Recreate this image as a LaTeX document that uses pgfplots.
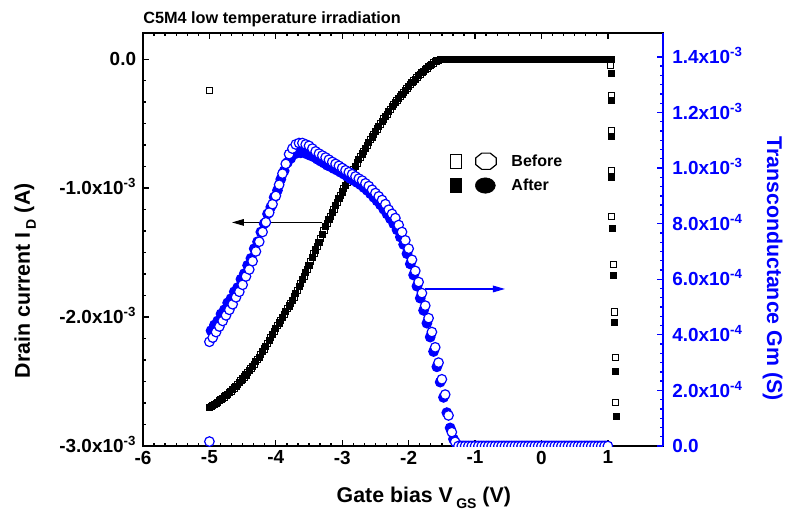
\documentclass[border=0pt]{standalone}
\usepackage{fontspec}
\setmainfont{Liberation Sans}
\usepackage{pgfplots}
\pgfplotsset{compat=1.18}
\usepackage{pgfplotstable}
\usetikzlibrary{arrows.meta}
\definecolor{gmblue}{RGB}{0,0,255}

% Drain current (units of 1e-3 A)
\pgfplotstableread[row sep=\\]{
x y\\
-5.00 -0.245\\
-4.975 -2.693\\ -4.925 -2.677\\ -4.875 -2.659\\ -4.825 -2.640\\ -4.775 -2.620\\ -4.725 -2.599\\ -4.675 -2.576\\ -4.625 -2.550\\ -4.575 -2.522\\ -4.525 -2.494\\
-4.475 -2.465\\ -4.425 -2.433\\ -4.375 -2.399\\ -4.325 -2.365\\ -4.275 -2.329\\ -4.225 -2.289\\ -4.175 -2.247\\ -4.125 -2.203\\ -4.075 -2.159\\ -4.025 -2.113\\
-3.975 -2.068\\ -3.925 -2.024\\ -3.875 -1.980\\ -3.825 -1.936\\ -3.775 -1.892\\ -3.725 -1.844\\ -3.675 -1.791\\ -3.625 -1.737\\ -3.575 -1.683\\ -3.525 -1.628\\
-3.475 -1.570\\ -3.425 -1.510\\ -3.375 -1.450\\ -3.325 -1.390\\ -3.275 -1.330\\ -3.225 -1.273\\ -3.175 -1.218\\ -3.125 -1.164\\ -3.075 -1.110\\ -3.025 -1.057\\
-2.975 -1.005\\ -2.925 -0.955\\ -2.875 -0.905\\ -2.825 -0.855\\ -2.775 -0.805\\ -2.725 -0.758\\ -2.675 -0.713\\ -2.625 -0.668\\ -2.575 -0.625\\ -2.525 -0.582\\
-2.475 -0.541\\ -2.425 -0.502\\ -2.375 -0.464\\ -2.325 -0.426\\ -2.275 -0.389\\ -2.225 -0.354\\ -2.175 -0.321\\ -2.125 -0.288\\ -2.075 -0.257\\ -2.025 -0.226\\
-1.975 -0.196\\ -1.925 -0.169\\ -1.875 -0.142\\ -1.825 -0.116\\ -1.775 -0.092\\ -1.725 -0.069\\ -1.675 -0.048\\ -1.625 -0.029\\ -1.575 -0.014\\ -1.525 -0.004\\
-1.475 0\\ -1.425 0\\ -1.375 0\\ -1.325 0\\ -1.275 0\\ -1.225 0\\ -1.175 0\\ -1.125 0\\ -1.075 0\\ -1.025 0\\
-0.975 0\\ -0.925 0\\ -0.875 0\\ -0.825 0\\ -0.775 0\\ -0.725 0\\ -0.675 0\\ -0.625 0\\ -0.575 0\\ -0.525 0\\
-0.475 0\\ -0.425 0\\ -0.375 0\\ -0.325 0\\ -0.275 0\\ -0.225 0\\ -0.175 0\\ -0.125 0\\ -0.075 0\\ -0.025 0\\
0.025 0\\ 0.075 0\\ 0.125 0\\ 0.175 0\\ 0.225 0\\ 0.275 0\\ 0.325 0\\ 0.375 0\\ 0.425 0\\ 0.475 0\\
0.525 0\\ 0.575 0\\ 0.625 0\\ 0.675 0\\ 0.725 0\\ 0.775 0\\ 0.825 0\\ 0.875 0\\ 0.925 0\\ 0.975 0\\ 1.025 0\\
1.04 -0.045\\ 1.06 -0.28\\ 1.06 -0.55\\ 1.06 -0.86\\ 1.06 -1.22\\ 1.08 -1.59\\ 1.10 -1.96\\ 1.11 -2.31\\ 1.12 -2.66\\
}\idbefore

\pgfplotstableread[row sep=\\]{
x y\\
-5.00 -2.700\\ -4.95 -2.685\\ -4.90 -2.668\\ -4.85 -2.650\\ -4.80 -2.630\\ -4.75 -2.610\\ -4.70 -2.588\\ -4.65 -2.563\\ -4.60 -2.536\\ -4.55 -2.508\\
-4.50 -2.480\\ -4.45 -2.449\\ -4.40 -2.416\\ -4.35 -2.382\\ -4.30 -2.347\\ -4.25 -2.310\\ -4.20 -2.268\\ -4.15 -2.225\\ -4.10 -2.181\\ -4.05 -2.136\\
-4.00 -2.090\\ -3.95 -2.046\\ -3.90 -2.002\\ -3.85 -1.958\\ -3.80 -1.914\\ -3.75 -1.870\\ -3.70 -1.818\\ -3.65 -1.764\\ -3.60 -1.710\\ -3.55 -1.655\\
-3.50 -1.600\\ -3.45 -1.540\\ -3.40 -1.480\\ -3.35 -1.420\\ -3.30 -1.360\\ -3.25 -1.300\\ -3.20 -1.245\\ -3.15 -1.190\\ -3.10 -1.137\\ -3.05 -1.083\\
-3.00 -1.030\\ -2.95 -0.980\\ -2.90 -0.930\\ -2.85 -0.880\\ -2.80 -0.830\\ -2.75 -0.780\\ -2.70 -0.735\\ -2.65 -0.690\\ -2.60 -0.646\\ -2.55 -0.603\\
-2.50 -0.560\\ -2.45 -0.521\\ -2.40 -0.483\\ -2.35 -0.445\\ -2.30 -0.407\\ -2.25 -0.370\\ -2.20 -0.337\\ -2.15 -0.304\\ -2.10 -0.272\\ -2.05 -0.241\\
-2.00 -0.210\\ -1.95 -0.182\\ -1.90 -0.155\\ -1.85 -0.128\\ -1.80 -0.104\\ -1.75 -0.080\\ -1.70 -0.058\\ -1.65 -0.038\\ -1.60 -0.020\\ -1.55 -0.008\\
-1.50 0\\ -1.45 0\\ -1.40 0\\ -1.35 0\\ -1.30 0\\ -1.25 0\\ -1.20 0\\ -1.15 0\\ -1.10 0\\ -1.05 0\\
-1.00 0\\ -0.95 0\\ -0.90 0\\ -0.85 0\\ -0.80 0\\ -0.75 0\\ -0.70 0\\ -0.65 0\\ -0.60 0\\ -0.55 0\\
-0.50 0\\ -0.45 0\\ -0.40 0\\ -0.35 0\\ -0.30 0\\ -0.25 0\\ -0.20 0\\ -0.15 0\\ -0.10 0\\ -0.05 0\\
0.00 0\\ 0.05 0\\ 0.10 0\\ 0.15 0\\ 0.20 0\\ 0.25 0\\ 0.30 0\\ 0.35 0\\ 0.40 0\\ 0.45 0\\
0.50 0\\ 0.55 0\\ 0.60 0\\ 0.65 0\\ 0.70 0\\ 0.75 0\\ 0.80 0\\ 0.85 0\\ 0.90 0\\ 0.95 0\\ 1.00 0\\ 1.05 0\\
1.05 -0.11\\ 1.06 -0.32\\ 1.06 -0.60\\ 1.06 -0.92\\ 1.07 -1.31\\ 1.09 -1.68\\ 1.10 -2.04\\ 1.11 -2.42\\ 1.13 -2.77\\
}\idafter

% Transconductance (units of 1e-4 S)
\pgfplotstableread[row sep=\\]{
x y\\
-5.00 0.16\\
-5.00 3.75\\ -4.95 3.90\\ -4.90 4.10\\ -4.85 4.30\\ -4.80 4.50\\ -4.75 4.70\\ -4.70 4.90\\ -4.65 5.10\\ -4.60 5.35\\ -4.55 5.55\\
-4.50 5.80\\ -4.45 6.10\\ -4.40 6.35\\ -4.35 6.65\\ -4.30 7.00\\ -4.25 7.35\\ -4.20 7.70\\ -4.15 8.05\\ -4.10 8.40\\ -4.05 8.70\\
-4.00 9.00\\ -3.95 9.40\\ -3.90 9.80\\ -3.85 10.15\\ -3.80 10.50\\ -3.75 10.70\\ -3.70 10.85\\ -3.65 10.90\\ -3.60 10.90\\ -3.55 10.85\\
-3.50 10.80\\ -3.45 10.70\\ -3.40 10.60\\ -3.35 10.52\\ -3.30 10.45\\ -3.25 10.38\\ -3.20 10.30\\ -3.15 10.22\\ -3.10 10.15\\ -3.05 10.08\\
-3.00 10.00\\ -2.95 9.92\\ -2.90 9.85\\ -2.85 9.78\\ -2.80 9.70\\ -2.75 9.62\\ -2.70 9.55\\ -2.65 9.45\\ -2.60 9.35\\ -2.55 9.22\\
-2.50 9.10\\ -2.45 8.98\\ -2.40 8.85\\ -2.35 8.70\\ -2.30 8.50\\ -2.25 8.35\\ -2.20 8.20\\ -2.15 7.95\\ -2.10 7.70\\ -2.05 7.40\\
-2.00 7.10\\ -1.95 6.70\\ -1.90 6.30\\ -1.85 5.90\\ -1.80 5.50\\ -1.75 5.05\\ -1.70 4.60\\ -1.65 4.10\\ -1.60 3.55\\ -1.55 3.00\\
-1.50 2.40\\ -1.45 1.85\\ -1.40 1.10\\ -1.35 0.50\\ -1.30 0.15\\ -1.25 0\\ -1.20 0\\ -1.15 0\\ -1.10 0\\ -1.05 0\\
-1.00 0\\ -0.95 0\\ -0.90 0\\ -0.85 0\\ -0.80 0\\ -0.75 0\\ -0.70 0\\ -0.65 0\\ -0.60 0\\ -0.55 0\\
-0.50 0\\ -0.45 0\\ -0.40 0\\ -0.35 0\\ -0.30 0\\ -0.25 0\\ -0.20 0\\ -0.15 0\\ -0.10 0\\ -0.05 0\\
0.00 0\\ 0.05 0\\ 0.10 0\\ 0.15 0\\ 0.20 0\\ 0.25 0\\ 0.30 0\\ 0.35 0\\ 0.40 0\\ 0.45 0\\
0.50 0\\ 0.55 0\\ 0.60 0\\ 0.65 0\\ 0.70 0\\ 0.75 0\\ 0.80 0\\ 0.85 0\\ 0.90 0\\ 0.95 0\\ 1.00 0\\
}\gmbefore

\pgfplotstableread[row sep=\\]{
x y\\
-4.975 4.15\\ -4.925 4.35\\ -4.875 4.50\\ -4.825 4.75\\ -4.775 4.90\\ -4.725 5.15\\ -4.675 5.30\\ -4.625 5.55\\ -4.575 5.70\\ -4.525 6.00\\
-4.475 6.20\\ -4.425 6.50\\ -4.375 6.75\\ -4.325 7.10\\ -4.275 7.35\\ -4.225 7.70\\ -4.175 8.00\\ -4.125 8.35\\ -4.075 8.60\\ -4.025 8.95\\
-3.975 9.20\\ -3.925 9.60\\ -3.875 9.90\\ -3.825 10.20\\ -3.775 10.35\\ -3.725 10.50\\ -3.675 10.55\\ -3.625 10.55\\ -3.575 10.55\\ -3.525 10.50\\
-3.475 10.45\\ -3.425 10.40\\ -3.375 10.32\\ -3.325 10.25\\ -3.275 10.18\\ -3.225 10.10\\ -3.175 10.05\\ -3.125 9.98\\ -3.075 9.92\\ -3.025 9.85\\
-2.975 9.78\\ -2.925 9.70\\ -2.875 9.62\\ -2.825 9.55\\ -2.775 9.48\\ -2.725 9.40\\ -2.675 9.30\\ -2.625 9.20\\ -2.575 9.08\\ -2.525 8.95\\
-2.475 8.82\\ -2.425 8.68\\ -2.375 8.52\\ -2.325 8.35\\ -2.275 8.18\\ -2.225 8.00\\ -2.175 7.78\\ -2.125 7.52\\ -2.075 7.25\\ -2.025 6.92\\
-1.975 6.55\\ -1.925 6.15\\ -1.875 5.75\\ -1.825 5.32\\ -1.775 4.88\\ -1.725 4.42\\ -1.675 3.92\\ -1.625 3.40\\ -1.575 2.85\\ -1.525 2.30\\
-1.475 1.75\\ -1.425 1.20\\ -1.375 0.65\\ -1.325 0.25\\ -1.275 0.05\\ -1.225 0\\ -1.175 0\\ -1.125 0\\ -1.075 0\\ -1.025 0\\
-0.975 0\\ -0.925 0\\ -0.875 0\\ -0.825 0\\ -0.775 0\\ -0.725 0\\ -0.675 0\\ -0.625 0\\ -0.575 0\\ -0.525 0\\
-0.475 0\\ -0.425 0\\ -0.375 0\\ -0.325 0\\ -0.275 0\\ -0.225 0\\ -0.175 0\\ -0.125 0\\ -0.075 0\\ -0.025 0\\
0.025 0\\ 0.075 0\\ 0.125 0\\ 0.175 0\\ 0.225 0\\ 0.275 0\\ 0.325 0\\ 0.375 0\\ 0.425 0\\ 0.475 0\\
0.525 0\\ 0.575 0\\ 0.625 0\\ 0.675 0\\ 0.725 0\\ 0.775 0\\ 0.825 0\\ 0.875 0\\ 0.925 0\\ 0.975 0\\
}\gmafter

\newcommand{\tlfont}{\fontsize{14.2}{16}\selectfont\bfseries}
\newcommand{\labfont}{\fontsize{16}{18}\selectfont\bfseries}
\newcommand{\sub}[1]{\hspace{2.5pt}\raisebox{-4.5pt}{\fontsize{10.5}{12}\selectfont #1}}

\begin{document}
\begin{tikzpicture}
\begin{axis}[
  name=main,
  scale only axis, width=390pt, height=309.75pt,
  xmin=-6, xmax=1.83, ymin=-3, ymax=0.203,
  tick align=inside,
  xtick pos=both, ytick pos=left,
  xtick={-6,-5,-4,-3,-2,-1,0,1},
  xticklabels={-6,-5,-4,-3,-2,-1,0,1},
  minor x tick num=5,
  ytick={-3,-2,-1,0},
  yticklabels={-3.0x10\textsuperscript{-3},-2.0x10\textsuperscript{-3},-1.0x10\textsuperscript{-3},0.0},
  minor y tick num=5,
  major tick length=4.5pt, minor tick length=2.5pt,
  tick style={black, line width=1pt},
  axis line style={black, line width=1.2pt},
  xticklabel style={font=\tlfont, anchor=north, inner sep=0pt, yshift=-3.5pt},
  yticklabel style={font=\tlfont, anchor=base east, inner sep=0pt, xshift=-5pt, yshift=-5pt},
  xlabel={Gate bias V\sub{GS} (V)},
  ylabel={Drain current I\sub{D} (A)},
  every axis x label/.style={at={([yshift=-42pt]axis description cs:0.54,0)}, anchor=base, font=\labfont},
  every axis y label/.style={at={([xshift=-84.75pt]axis description cs:0,0.40)}, anchor=base, rotate=90, font=\labfont},
  title={C5M4 low temperature irradiation},
  every axis title/.style={at={([yshift=7.3pt]axis description cs:0,1)}, anchor=base west, inner sep=0pt, font=\fontsize{12.2}{14}\selectfont\bfseries},
  clip marker paths=true,
  legend style={at={(axis description cs:0.590,0.713)}, anchor=north west, draw=none, fill=none,
    font=\fontsize{12}{14}\selectfont\bfseries, column sep=9pt, row sep=4pt, inner sep=0pt},
  legend cell align=left,
]
\addlegendimage{legend image code/.code={
  \draw[black, line width=0.9pt, fill=white] (0pt,-5.2pt) rectangle (8.3pt,5.2pt);
  \draw[black, line width=0.9pt, shift={(26.5pt,0pt)}] (22.5:8.3pt and 6.6pt) -- (67.5:8.3pt and 6.6pt) -- (112.5:8.3pt and 6.6pt) -- (157.5:8.3pt and 6.6pt) -- (202.5:8.3pt and 6.6pt) -- (247.5:8.3pt and 6.6pt) -- (292.5:8.3pt and 6.6pt) -- (337.5:8.3pt and 6.6pt) -- cycle;
}}
\addlegendimage{legend image code/.code={
  \draw[black, line width=0.9pt, fill=black] (0pt,-5.2pt) rectangle (8.3pt,5.2pt);
  \fill[black] (26pt,0pt) ellipse [x radius=7.5pt, y radius=5.8pt];
}}
\legend{Before,After}
\addplot[only marks, mark=square*, mark size=2.3pt, mark options={draw=black, fill=white, line width=0.7pt}, forget plot] table {\idbefore};
\addplot[only marks, mark=square*, mark size=2.3pt, mark options={draw=black, fill=black, line width=0.7pt}, forget plot] table {\idafter};
\draw[black, line width=0.8pt, -{Triangle[length=9pt, width=5pt]}] (axis cs:-3.30,-1.266) -- (axis cs:-4.66,-1.266);
\end{axis}
\begin{axis}[
  scale only axis, width=390pt, height=309.75pt,
  xmin=-6, xmax=1.83, ymin=0, ymax=14.86,
  axis x line=none,
  axis y line*=right,
  tick align=inside,
  ytick={0,2,4,6,8,10,12,14},
  yticklabels={0.0,2.0x10\textsuperscript{-4},4.0x10\textsuperscript{-4},6.0x10\textsuperscript{-4},8.0x10\textsuperscript{-4},1.0x10\textsuperscript{-3},1.2x10\textsuperscript{-3},1.4x10\textsuperscript{-3}},
  minor y tick num=5,
  major tick length=4.5pt, minor tick length=2.5pt,
  tick style={gmblue, line width=1pt},
  axis line style={gmblue, line width=1.5pt},
  yticklabel style={font=\tlfont, text=gmblue, anchor=base west, inner sep=0pt, xshift=6.75pt, yshift=-5pt},
  ylabel={Transconductance Gm (S)},
  every axis y label/.style={at={([xshift=78pt]axis description cs:1,0.43)}, anchor=base, rotate=-90, font=\labfont, text=gmblue},
  clip marker paths=true,
]
\addplot[only marks, mark=*, mark size=3.6pt, mark options={draw=gmblue, fill=gmblue, line width=0.9pt}] table {\gmafter};
\addplot[only marks, mark=*, mark size=3.6pt, mark options={draw=gmblue, fill=white, line width=0.9pt}] table {\gmbefore};
\draw[gmblue, line width=0.8pt, -{Triangle[length=9pt, width=5pt]}] (axis cs:-1.75,5.65) -- (axis cs:-0.55,5.65);
\end{axis}
\pgfresetboundingbox
\path[use as bounding box] ([shift={(-107.25pt,-48pt)}]main.south west) rectangle ([shift={(93pt,24.75pt)}]main.north east);
\end{tikzpicture}
\end{document}
